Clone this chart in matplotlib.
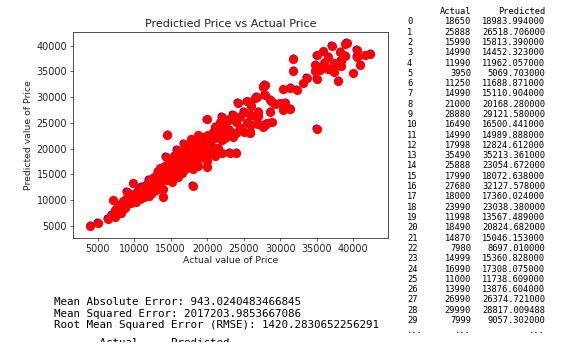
import matplotlib
matplotlib.use("Agg")
import matplotlib.pyplot as plt
import matplotlib.transforms as mtransforms
from matplotlib.patches import Rectangle

# ── Scatter data: actual vs predicted price ─────────────────────────────────
actual = [
    3950, 5000, 6400, 6900, 7400, 7100, 7400, 7800, 7980, 8300,
    8700, 8200, 7600, 8500, 8900, 9000, 9000, 7999, 8800, 9300,
    9500, 9500, 9700, 9900, 10000, 10200, 10300, 10500, 10600, 10800,
    11000, 11000, 11250, 11400, 11500, 11700, 11990, 12000, 12200, 12300,
    12500, 12600, 12800, 13000, 13000, 13200, 13400, 13600, 13500, 12000,
    13990, 14000, 14000, 14000, 14200, 14500, 14300, 14500, 14870, 14990,
    14990, 14990, 14999, 15000, 15200, 15400, 15500, 15990, 16000, 16000,
    16200, 16490, 16500, 16500, 16990, 17000, 17000, 17200, 17500, 17500,
    15800, 14800, 16800,
    17990, 17998, 18000, 18000, 18000, 18300, 18490, 18500, 18650, 18800,
    19000, 19000, 19300, 19500, 19500, 19800, 19900, 20000, 20000, 20100,
    20000, 20500, 20500, 20800, 21000, 21000, 21000, 21100, 21500, 21500,
    21800, 22000, 22000, 22000, 22000, 18800, 17800,
    22500, 22500, 23100, 23000, 23000, 23500, 23500, 23990, 24000, 24000,
    24200, 24500, 24500, 25000, 25400, 25000, 25500, 25888, 25888, 25900,
    26000, 26000, 26500, 26600, 26800, 26990, 27000, 27000, 27700, 27700,
    27900, 27900, 27900, 27680,
    28150, 28600, 28600, 28830, 28880, 29300, 29990, 30400, 30430, 30660,
    31340, 31340, 31800, 31800, 32260, 33170, 33630, 34770, 34770, 35000,
    35000, 35450, 35490, 35000, 35900, 36000, 36600, 36600, 37050, 37300,
    37400, 37960, 37800, 38300, 38200, 38300, 38900, 39100, 38900, 40480,
    40480, 40940, 40020, 41620, 42300,
]
predicted = [
    5070, 5550, 6450, 7150, 6800, 10000, 8100, 8750, 8697, 9100,
    8450, 7600, 7500, 9800, 10300, 11600, 9200, 9057, 8800, 9900,
    10600, 9400, 11000, 13300, 10100, 9700, 11500, 10800, 12000, 10300,
    11739, 12600, 11689, 10600, 12100, 13000, 11962, 10900, 12300, 13600,
    11500, 14300, 12800, 12000, 14700, 15600, 13300, 16200, 12500, 14000,
    13877, 10700, 12100, 15200, 16600, 22700, 18400, 14000, 15046, 14452,
    15111, 14990, 15361, 17100, 13600, 16000, 18600, 15813, 14500, 17600,
    19500, 16500, 15200, 18200, 17308, 16000, 19600, 20400, 17000, 18600,
    19800, 17600, 21000,
    18073, 12825, 17360, 16100, 19700, 21200, 20825, 17600, 18984, 16700,
    19100, 20600, 22200, 18200, 19600, 21200, 25700, 17600, 20200, 22600,
    16500, 19100, 21600, 23200, 20168, 18600, 22100, 24300, 20100, 23600,
    25100, 19100, 21600, 23100, 26200, 22600, 21800,
    22100, 24600, 19200, 23600, 25600, 22300, 26600, 23038, 19200, 25100,
    28900, 24100, 26200, 27200, 29200, 23300, 25000, 26519, 23055, 23300,
    24700, 28300, 26300, 29900, 30100, 26375, 27200, 24800, 24300, 32000,
    32400, 30400, 24600, 32128,
    24900, 27200, 29500, 25100, 29122, 28600, 28817, 31500, 27500, 28900,
    27800, 31850, 35100, 37400, 31400, 32700, 33700, 36300, 35100, 33500,
    38100, 35750, 35213, 23800, 38900, 36700, 37900, 35500, 40000, 34900,
    36600, 33200, 36200, 37000, 38800, 36000, 40300, 40500, 38000, 39200,
    37900, 36300, 34650, 38100, 38400,
]

x_ticks = [5000, 10000, 15000, 20000, 25000, 30000, 35000, 40000]
y_ticks = [5000, 10000, 15000, 20000, 25000, 30000, 35000, 40000]

# ── Printed metrics ────────────────────────────────────────────────────────
metric_names = ["Mean Absolute Error", "Mean Squared Error",
                "Root Mean Squared Error (RMSE)"]
metric_values = ["943.0240483466845", "2017203.9853667086", "1420.2830652256291"]

# ── Printed dataframe (first 30 rows) ──────────────────────────────────────
table_actual = [18650, 25888, 15990, 14990, 11990, 3950, 11250, 14990, 21000, 28880,
                16490, 14990, 17998, 35490, 25888, 17990, 27680, 18000, 23990, 11998,
                18490, 14870, 7980, 14999, 16990, 11000, 13990, 26990, 29990, 7999]
table_pred = [18983.994, 26518.706, 15813.390, 14452.323, 11962.057, 5069.703,
              11688.871, 15110.904, 20168.280, 29121.580, 16500.441, 14989.888,
              12824.612, 35213.361, 23054.672, 18072.638, 32127.578, 17360.024,
              23038.380, 13567.489, 20824.682, 15046.153, 8697.010, 15360.828,
              17308.075, 11738.609, 13876.604, 26374.721, 28817.009488, 9057.302]

W, H = 578, 348
fig = plt.figure(figsize=(W / 100, H / 100), dpi=100)
fig.patch.set_facecolor("white")

# ── Scatter axes ───────────────────────────────────────────────────────────
ax = fig.add_axes([73 / W, 1 - 238 / H, (388 - 73) / W, (238 - 32) / H])
# blue layer sits just under the red one and only peeks out at the top-left
blue_tr = mtransforms.offset_copy(ax.transData, fig=fig, x=-0.5, y=0.7, units="dots")
ax.scatter(actual, predicted, s=34, color="blue", linewidths=0, transform=blue_tr, zorder=2)
ax.scatter(actual, predicted, s=44, color="red", linewidths=0, zorder=3)

ax.set_xlim(1620, 44750)
ax.set_ylim(2670, 42660)
ax.set_xticks(x_ticks)
ax.set_yticks(y_ticks)
ax.tick_params(labelsize=6.9, length=2.3, width=0.5, pad=1.8, colors="#222222")
for sp in ax.spines.values():
    sp.set_linewidth(0.6)
    sp.set_color("#333333")

ax.set_title("Predictied Price vs Actual Price", fontsize=8.0, pad=3.5, color="#222222")
ax.set_xlabel("Actual value of Price", fontsize=6.7, labelpad=2, color="#222222")
ax.set_ylabel("Predicted value of Price", fontsize=6.7, labelpad=3, color="#222222")

# ── Metrics printed below the plot ─────────────────────────────────────────
mono = "DejaVu Sans Mono"
for i, (name, val) in enumerate(zip(metric_names, metric_values)):
    fig.text(54 / W, 1 - (302 + i * 11.6) / H, f"{name}: {val}",
             fontsize=7.8, family=mono, va="center", ha="left")
# next output line, only the tops of the tall letters survive the crop
fig.text(54 / W, 1 - 345.5 / H, "       Actual     Predicted",
         fontsize=7.8, family=mono, va="baseline", ha="left", zorder=1)
fig.patches.append(Rectangle((0, 0), 400 / W, 1 - 341.5 / H, transform=fig.transFigure,
                             facecolor="white", edgecolor="none", zorder=5))

# ── Dataframe printout on the right ────────────────────────────────────────
row_h = 10.3
y0 = 11.5
fs_tab = 6.3
fig.text(471 / W, 1 - y0 / H, "Actual", fontsize=fs_tab, family=mono, va="center", ha="right")
fig.text(545 / W, 1 - y0 / H, "Predicted", fontsize=fs_tab, family=mono, va="center", ha="right")
for i, (a, p) in enumerate(zip(table_actual, table_pred)):
    yy = 1 - (y0 + (i + 1) * row_h) / H
    fig.text(407 / W, yy, str(i), fontsize=fs_tab, family=mono, va="center", ha="left")
    fig.text(471 / W, yy, str(a), fontsize=fs_tab, family=mono, va="center", ha="right")
    fig.text(545 / W, yy, f"{p:.6f}", fontsize=fs_tab, family=mono, va="center", ha="right")
yy = 1 - (y0 + (len(table_actual) + 1) * row_h) / H
fig.text(407 / W, yy, "...", fontsize=fs_tab, family=mono, va="center", ha="left")
fig.text(471 / W, yy, "...", fontsize=fs_tab, family=mono, va="center", ha="right")
fig.text(545 / W, yy, "...", fontsize=fs_tab, family=mono, va="center", ha="right")

fig.savefig("out.png", dpi=100)
